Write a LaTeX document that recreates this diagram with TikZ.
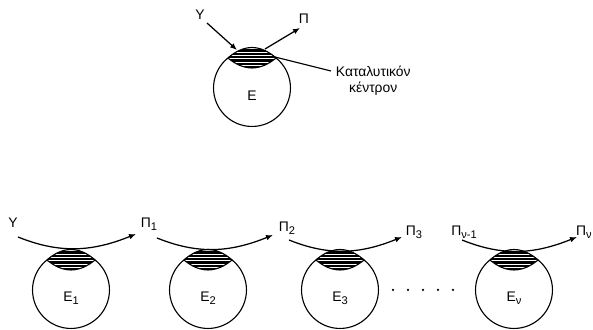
\documentclass[tikz,border=0pt]{standalone}
\usepackage{fontspec}
\setmainfont{Liberation Sans}
\usetikzlibrary{arrows.meta, positioning}
\newcommand\idx[1]{\raisebox{-0.4ex}{\footnotesize #1}}

\begin{document}
\begin{tikzpicture}[x=0.72pt, y=0.72pt,
    arr/.style={line width=0.9pt, -{Latex[length=5pt, width=4pt]}},
    cell/.style={circle, draw, line width=0.8pt, minimum size=55.4pt, inner sep=0pt}]
  \useasboundingbox (0,0) rectangle (593,330);

  % enzymes with their catalytic centres
  \foreach \n/\cx/\cy/\lab in {e0/252/242/{Ε}, e1/71/40/{Ε\idx{1}},
      e2/208/40/{Ε\idx{2}}, e3/340/40/{Ε\idx{3}},
      en/514/40/{Ε\idx{ν}}} {
    \node[cell] (\n) at (\cx,\cy) {};
    \node (l\n) at (\cx,\cy-8) {\lab};
    \begin{scope}
      \clip (\cx-24,\cy+30) parabola bend (\cx,\cy+40.5) (\cx+24,\cy+30)
            parabola bend (\cx,\cy+20) (\cx-24,\cy+30);
      \fill[white] (\cx-26,\cy+18) rectangle (\cx+26,\cy+42);
      \foreach \k in {0,...,6}
        \draw[line width=1.7pt] (\cx-26,\cy+21+\k*3.3) -- ++(52,0);
    \end{scope}
    \draw[line width=0.8pt] (\cx-24,\cy+30) parabola bend (\cx,\cy+40.5) (\cx+24,\cy+30)
          parabola bend (\cx,\cy+20) (\cx-24,\cy+30);
  }

  % single enzyme
  \node (y0) at (200,315) {Υ};
  \node (p0) at (304,311) {Π};
  \coordinate (u0) at (207,307);
  \coordinate (c0) at (237,280);
  \coordinate (c1) at (265,281);
  \coordinate (v0) at (300,302);
  \coordinate (c2) at (275,273);
  \draw[arr] (u0) -- (c0);
  \draw[arr] (c1) -- (v0);
  \node[right] (kat) at (331,259) {Καταλυτικόν};
  \node[below=-3pt of kat] (ken) {κέντρον};
  \draw[line width=0.8pt] (c2) -- (kat.west);

  % chain of enzymes
  \node (y1) at (13,107) {Υ};
  \node (p1) at (149,106) {Π\idx{1}};
  \node (p2) at (287,102) {Π\idx{2}};
  \node (p3) at (414,98) {Π\idx{3}};
  \node (pm) at (464,98) {Π\idx{ν-1}};
  \node (pn) at (584,98) {Π\idx{ν}};

  \coordinate (s1) at (18,93);   \coordinate (t1) at (136,96);
  \coordinate (s2) at (157,92);  \coordinate (t2) at (273,95);
  \coordinate (s3) at (289,90);  \coordinate (t3) at (402,93);
  \coordinate (sn) at (462,90);  \coordinate (tn) at (577,93);
  \foreach \i in {1,2,3,n}
    \draw[arr] (s\i) to[out=-22, in=202] (t\i);

  % dots
  \foreach \d in {0,...,4}
    \fill (393+\d*15,40) circle (0.9pt);
\end{tikzpicture}
\end{document}
